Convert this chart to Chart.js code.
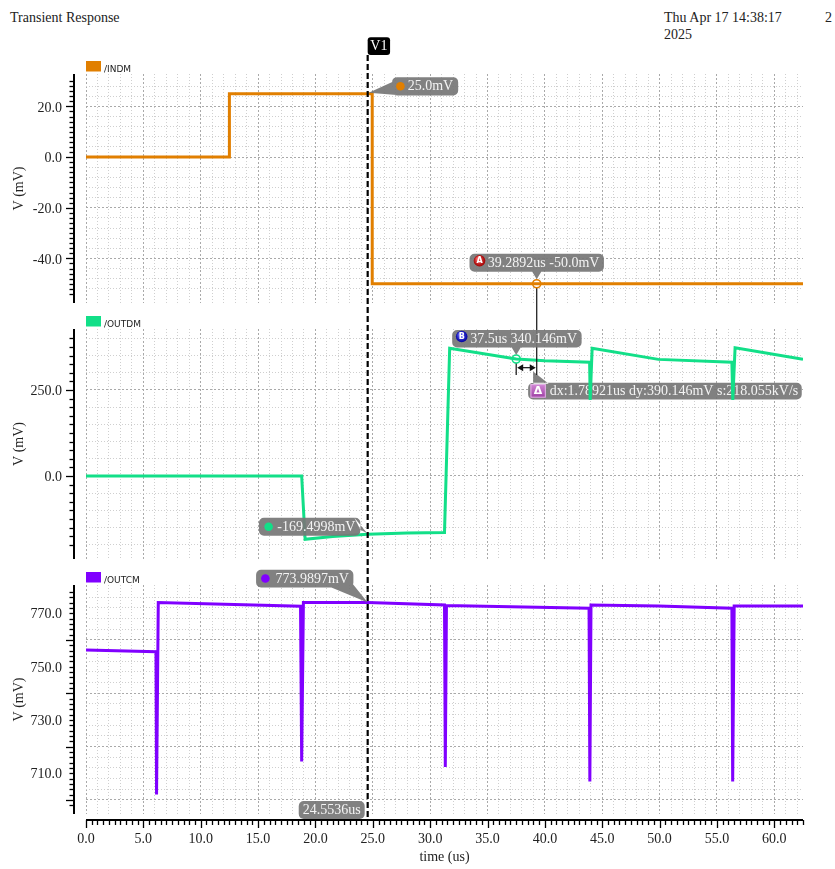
<!DOCTYPE html>
<html><head><meta charset="utf-8">
<script src="https://cdn.jsdelivr.net/npm/chart.js@4.4.1/dist/chart.umd.min.js"></script>
<style>
html,body{margin:0;padding:0;background:#fff;}
#wrap{position:relative;width:835px;height:869px;overflow:hidden;background:#fff;}
canvas{position:absolute;left:0;top:0;}
.hdr{position:absolute;font:14px 'Liberation Serif',serif;color:#222;white-space:nowrap;line-height:17px;}
</style></head><body>
<div id="wrap">
<div class="hdr" style="left:10px;top:9px">Transient Response</div>
<div class="hdr" style="left:664px;top:9px">Thu Apr 17 14:38:17<br>2025</div>
<div class="hdr" style="left:825px;top:9px">2</div>
<canvas id="c1" width="835" height="869"></canvas>
<canvas id="c2" width="835" height="869"></canvas>
<canvas id="c3" width="835" height="869"></canvas>
</div>
<script>
// ---------------- data (time in us, voltage in mV) ----------------
const timeINDM = [0, 12.5, 12.5, 24.95, 24.95, 62.5];
const valINDM  = [0, 0, 25, 25, -50, -50];

const timeOUTDM = [0, 18.8, 19.1, 21.5, 24.55, 28.0, 31.25, 31.7, 37.5, 40.0, 43.9, 43.95, 44.12, 49.9, 56.3, 56.38, 56.58, 62.5];
const valOUTDM  = [0, 0, -184, -176, -169.5, -166, -164, 371, 340.1, 335, 331, 221, 371, 339, 330.5, 221, 373, 339];

const timeOUTCM = [0, 6.1, 6.15, 6.3, 18.7, 18.8, 18.95, 24.55, 31.25, 31.32, 31.42, 43.85, 43.92, 44.02, 49.9, 56.3, 56.37, 56.5, 62.5];
const valOUTCM  = [756.2, 755.6, 702.0, 774.0, 772.6, 714.4, 774.0, 774.0, 773.1, 712.3, 772.9, 771.9, 706.9, 773.1, 772.7, 771.9, 706.9, 772.7, 772.7];

const xTickLabels     = [0, 5, 10, 15, 20, 25, 30, 35, 40, 45, 50, 55, 60];
const indmTickLabels  = [-40, -20, 0, 20];
const outdmTickLabels = [0, 250];
const outcmTickLabels = [710, 730, 750, 770];

const cursorTime = 24.5536;
const cursorINDM = 25.0;
const cursorOUTDM = -169.4998;
const cursorOUTCM = 773.9897;
const markerA = [39.2892, -50.0];
const markerB = [37.5, 340.146];
const deltaText = 'dx:1.78921us dy:390.146mV s:218.055kV/s';

// ---------------- helpers ----------------
const SERIF = "'Liberation Serif', 'Times New Roman', serif";
const C_OR = '#e17f00', C_GR = '#12df88', C_PU = '#8000ff';
function isMult(v, s) { const r = v / s; return Math.abs(r - Math.round(r)) < 1e-6; }

function rrPath(ctx, x, y, w, h, r) {
  ctx.moveTo(x + r, y);
  ctx.lineTo(x + w - r, y); ctx.arcTo(x + w, y, x + w, y + r, r);
  ctx.lineTo(x + w, y + h - r); ctx.arcTo(x + w, y + h, x + w - r, y + h, r);
  ctx.lineTo(x + r, y + h); ctx.arcTo(x, y + h, x, y + h - r, r);
  ctx.lineTo(x, y + r); ctx.arcTo(x, y, x + r, y, r);
  ctx.closePath();
}
function bubble(ctx, x, y, w, h, tail, fill) {
  ctx.save();
  ctx.fillStyle = fill || 'rgba(118,118,118,0.92)';
  ctx.beginPath();
  rrPath(ctx, x, y, w, h, 5);
  if (tail) {
    ctx.moveTo(tail[0][0], tail[0][1]);
    for (let i = 1; i < tail.length; i++) ctx.lineTo(tail[i][0], tail[i][1]);
    ctx.closePath();
  }
  ctx.fill('nonzero');
  ctx.restore();
}
function dot(ctx, x, y, r, color) {
  ctx.save(); ctx.fillStyle = color; ctx.beginPath(); ctx.arc(x, y, r, 0, Math.PI * 2); ctx.fill(); ctx.restore();
}
function sphere(ctx, x, y, r, c1, c2, letter) {
  ctx.save();
  const g = ctx.createRadialGradient(x - r * 0.35, y - r * 0.4, r * 0.1, x, y, r);
  g.addColorStop(0, c1); g.addColorStop(1, c2);
  ctx.fillStyle = g; ctx.beginPath(); ctx.arc(x, y, r, 0, Math.PI * 2); ctx.fill();
  ctx.fillStyle = '#fff'; ctx.font = "bold 8px 'DejaVu Sans', sans-serif";
  ctx.textAlign = 'center'; ctx.textBaseline = 'middle'; ctx.fillText(letter, x, y + 0.5);
  ctx.restore();
}
function txt(ctx, s, x, y, color, align) {
  ctx.save(); ctx.font = '14px ' + SERIF; ctx.fillStyle = color || '#f4f4f4';
  ctx.textAlign = align || 'left'; ctx.textBaseline = 'middle'; ctx.fillText(s, x, y); ctx.restore();
}
function tw(ctx, s) { ctx.save(); ctx.font = '14px ' + SERIF; const w = ctx.measureText(s).width; ctx.restore(); return w; }

// axis & legend drawing per panel
function panelPlugin(o) {
  return {
    id: 'panel' + o.name.replace('/', ''),
    afterDraw(chart) {
      const { ctx, chartArea: a, scales: { x, y } } = chart;
      ctx.save();
      // legend
      ctx.fillStyle = o.color;
      ctx.fillRect(a.left, a.top - 13, 15, 10.5);
      ctx.fillStyle = '#222';
      ctx.font = "9px 'DejaVu Sans', sans-serif";
      ctx.textBaseline = 'alphabetic';
      ctx.fillText(o.name, a.left + 18, a.top - 2.5);
      // y axis
      const ax = a.left - 12;
      ctx.strokeStyle = '#000';
      ctx.lineWidth = 2;
      ctx.beginPath(); ctx.moveTo(ax, a.top); ctx.lineTo(ax, a.bottom); ctx.stroke();
      ctx.lineWidth = 1.3;
      y.ticks.forEach(t => {
        if (!isMult(t.value, o.half)) return;
        const py = Math.round(y.getPixelForValue(t.value)) + 0.5;
        const len = isMult(t.value, o.major) ? 8 : 4.5;
        ctx.beginPath(); ctx.moveTo(ax - len, py); ctx.lineTo(ax, py); ctx.stroke();
      });
      if (o.showX) {
        const ay = a.bottom + 6;
        ctx.lineWidth = 2;
        ctx.beginPath(); ctx.moveTo(a.left, ay); ctx.lineTo(a.right, ay); ctx.stroke();
        ctx.lineWidth = 1.3;
        x.ticks.forEach(t => {
          if (!isMult(t.value, 0.5)) return;
          const px = Math.round(x.getPixelForValue(t.value)) + 0.5;
          const len = isMult(t.value, 5) ? 8 : 5;
          ctx.beginPath(); ctx.moveTo(px, ay); ctx.lineTo(px, ay + len); ctx.stroke();
        });
      }
      ctx.restore();
    }
  };
}

function gridColor(minor, major) {
  return c => {
    const t = c.tick; if (!t) return 'rgba(0,0,0,0)';
    if (isMult(t.value, major)) return '#a9a9a9';
    if (isMult(t.value, minor)) return '#cfcfcf';
    return 'rgba(0,0,0,0)';
  };
}
function gridWidth(minor) {
  return c => (c.tick && isMult(c.tick.value, minor)) ? 1 : 0;
}
function gridDash(minor, major) {
  return c => {
    const t = c.tick; if (!t) return [];
    if (isMult(t.value, major)) return [2, 2];
    return [1, 2];
  };
}

function makeChart(id, o) {
  const font = { family: SERIF, size: 14 };
  return new Chart(document.getElementById(id), {
    type: 'line',
    data: {
      datasets: [{
        label: o.name,
        data: o.t.map((t, i) => ({ x: t, y: o.v[i] })),
        borderColor: o.color, backgroundColor: o.color,
        borderWidth: 3, pointRadius: 0, tension: 0, fill: false,
        borderJoinStyle: 'miter'
      }]
    },
    options: {
      responsive: false, animation: false, devicePixelRatio: 1, events: [],
      layout: { padding: { top: o.padTop, bottom: o.padBottom, left: 0, right: 32 } },
      plugins: { legend: { display: false }, tooltip: { enabled: false } },
      scales: {
        x: {
          type: 'linear', min: 0, max: 62.5,
          afterFit: s => { s.height = o.xH; },
          ticks: {
            display: o.showX, stepSize: 0.5, autoSkip: false, maxRotation: 0, minRotation: 0,
            padding: 17, font: font, color: '#222',
            callback: v => xTickLabels.some(l => Math.abs(l - v) < 1e-6) ? Number(v).toFixed(1) : ''
          },
          grid: { drawTicks: false, color: gridColor(1, 5), lineWidth: gridWidth(1) },
          border: { display: false, dash: gridDash(1, 5) },
          title: { display: o.showX, text: 'time (us)', font: font, color: '#222', padding: { top: 0, bottom: 3 } }
        },
        y: {
          type: 'linear', min: o.min, max: o.max,
          afterFit: s => { s.width = 86; },
          ticks: {
            stepSize: o.half, autoSkip: false, padding: 24, font: font, color: '#222', labelOffset: 1.5,
            callback: v => o.labels.some(l => Math.abs(l - v) < 1e-6) ? Number(v).toFixed(1) : ''
          },
          grid: { drawTicks: false, color: gridColor(o.minor, o.major), lineWidth: gridWidth(o.minor) },
          border: { display: false, dash: gridDash(o.minor, o.major) },
          title: { display: true, text: 'V (mV)', font: font, color: '#222', padding: { top: 11, bottom: 0 } }
        }
      }
    },
    plugins: [panelPlugin(o)].concat(o.extra || [])
  });
}

// Delta readout box: drawn under the OUTDM trace
const deltaBox = {
  id: 'deltaBox',
  beforeDatasetsDraw(chart) {
    const ctx = chart.ctx;
    const ax = chart.scales.x.getPixelForValue(markerA[0]);
    const by = chart.scales.y.getPixelForValue(markerB[1]);
    const h = 16.8, w = 21.6 + tw(ctx, deltaText) + 3.5;
    const left = ax - 8.6, top = by + 23.7;
    bubble(ctx, left, top, w, h, [[ax - 3.6, by + 12.5], [ax - 3.6, top + 1], [ax + 12, top + 1]]);
    ctx.save();
    const g = ctx.createLinearGradient(0, top + 1, 0, top + 15);
    g.addColorStop(0, '#d58ad8'); g.addColorStop(1, '#9c3fa3');
    ctx.fillStyle = g; ctx.fillRect(left + 2.3, top + 1.4, 15.4, 13.6);
    ctx.strokeStyle = '#e6b7e8'; ctx.lineWidth = 1; ctx.strokeRect(left + 2.8, top + 1.9, 14.4, 12.6);
    ctx.fillStyle = '#fff'; ctx.font = "bold 11px 'DejaVu Sans', sans-serif";
    ctx.textAlign = 'center'; ctx.textBaseline = 'middle';
    ctx.fillText('\u0394', left + 10, top + 8.4);
    ctx.restore();
    txt(ctx, deltaText, left + 21.6, top + h / 2 + 0.5);
  }
};

const chTop = makeChart('c1', {
  name: '/INDM', color: C_OR, t: timeINDM, v: valINDM, labels: indmTickLabels,
  min: -57.6, max: 32.8, half: 2, minor: 4, major: 20, padTop: 74, padBottom: 566, xH: 0, showX: false
});
const chMid = makeChart('c2', {
  name: '/OUTDM', color: C_GR, t: timeOUTDM, v: valOUTDM, labels: outdmTickLabels,
  min: -241.3, max: 427.3, half: 25, minor: 50, major: 250, padTop: 329, padBottom: 310, xH: 0, showX: false,
  extra: [deltaBox]
});

const overlay = {
  id: 'overlay',
  afterDraw(chart) {
    const ctx = chart.ctx;
    const xs = v => chart.scales.x.getPixelForValue(v);
    const yTop = v => chTop.scales.y.getPixelForValue(v);
    const yMid = v => chMid.scales.y.getPixelForValue(v);
    const yBot = v => chart.scales.y.getPixelForValue(v);
    const cx = xs(cursorTime);

    // cursor line
    ctx.save();
    ctx.strokeStyle = '#000'; ctx.lineWidth = 2.2; ctx.setLineDash([6, 3]);
    ctx.beginPath(); ctx.moveTo(cx, 55); ctx.lineTo(cx, 820); ctx.stroke();
    ctx.restore();

    // V1 flag
    ctx.save(); ctx.fillStyle = '#000'; ctx.beginPath(); rrPath(ctx, cx, 37.3, 22.4, 17.7, 3); ctx.fill(); ctx.restore();
    txt(ctx, 'V1', cx + 11.2, 46.5, '#fff', 'center');

    // INDM cursor value
    {
      const px = cx, py = yTop(cursorINDM);
      const s = cursorINDM.toFixed(1) + 'mV';
      const left = px + 24.4, top = py - 16.6, h = 18.3, w = 15.6 + tw(ctx, s) + 5;
      bubble(ctx, left, top, w, h, [[px + 1, py - 1], [left + 4, top + 3], [left + 11, top + h]]);
      dot(ctx, left + 8.3, top + h / 2, 4.3, C_OR);
      txt(ctx, s, left + 15.6, top + h / 2 + 0.5);
    }
    // OUTDM cursor value
    {
      const px = cx, py = yMid(cursorOUTDM);
      const s = cursorOUTDM.toFixed(4) + 'mV';
      const h = 18, w = 18.3 + tw(ctx, s) + 5;
      const right = px - 7.3, left = right - w, top = py - 16.6;
      bubble(ctx, left, top, w, h, [[right - 6, top], [right, top + 12], [px - 0.5, py - 1]]);
      dot(ctx, left + 9.7, top + h / 2, 4.3, C_GR);
      txt(ctx, s, left + 18.3, top + h / 2 + 0.5);
    }
    // OUTCM cursor value
    {
      const px = cx, py = yBot(cursorOUTCM);
      const s = cursorOUTCM.toFixed(4) + 'mV';
      const h = 17.7, w = 19.3 + tw(ctx, s) + 4.5;
      const right = px - 14.3, left = right - w, bottom = py - 15.2, top = bottom - h;
      bubble(ctx, left, top, w, h, [[right - 22, bottom], [right - 1, bottom - 4], [px, py]]);
      dot(ctx, left + 9.3, top + h / 2, 4.3, C_PU);
      txt(ctx, s, left + 19.3, top + h / 2 + 0.5);
    }
    // time readout at bottom
    {
      const s = cursorTime.toFixed(4) + 'us';
      const w = tw(ctx, s) + 8, h = 18, right = cx - 3, top = 801;
      bubble(ctx, right - w, top, w, h, null);
      txt(ctx, s, right - w / 2, top + h / 2 + 0.5, '#f4f4f4', 'center');
    }

    // markers A and B
    const ax = xs(markerA[0]), ay = yTop(markerA[1]);
    const bx = xs(markerB[0]), by = yMid(markerB[1]);

    // delta construction lines
    ctx.save();
    ctx.strokeStyle = '#111'; ctx.lineWidth = 1.2;
    ctx.beginPath(); ctx.moveTo(ax, ay + 4); ctx.lineTo(ax, by + 16); ctx.stroke();
    ctx.beginPath(); ctx.moveTo(bx, by + 4); ctx.lineTo(bx, by + 16); ctx.stroke();
    const hy = by + 8.7;
    ctx.beginPath(); ctx.moveTo(bx + 4, hy); ctx.lineTo(ax - 4, hy); ctx.stroke();
    ctx.fillStyle = '#111';
    ctx.beginPath(); ctx.moveTo(bx + 1, hy); ctx.lineTo(bx + 7, hy - 3.5); ctx.lineTo(bx + 7, hy + 3.5); ctx.closePath(); ctx.fill();
    ctx.beginPath(); ctx.moveTo(ax - 1, hy); ctx.lineTo(ax - 7, hy - 3.5); ctx.lineTo(ax - 7, hy + 3.5); ctx.closePath(); ctx.fill();
    ctx.restore();

    ctx.save();
    ctx.lineWidth = 1.6;
    ctx.strokeStyle = C_OR; ctx.beginPath(); ctx.arc(ax, ay, 4, 0, Math.PI * 2); ctx.stroke();
    ctx.strokeStyle = C_GR; ctx.beginPath(); ctx.arc(bx, by, 4, 0, Math.PI * 2); ctx.stroke();
    ctx.restore();

    // A label
    {
      const s = markerA[0].toFixed(4) + 'us ' + markerA[1].toFixed(1) + 'mV';
      const h = 18, w = 18.3 + tw(ctx, s) + 4.5;
      const left = ax - w / 2, bottom = ay - 12, top = bottom - h;
      bubble(ctx, left, top, w, h, [[ax - 4.5, bottom], [ax + 4.5, bottom], [ax, ay - 4.5]]);
      sphere(ctx, left + 10, top + 7, 5.8, '#ff6a6a', '#a00000', 'A');
      txt(ctx, s, left + 18.3, top + h / 2 + 0.5);
    }
    // B label
    {
      const s = markerB[0] + 'us ' + markerB[1] + 'mV';
      const h = 17.5, w = 18 + tw(ctx, s) + 4.5;
      const left = bx + 0.7 - w / 2, bottom = by - 11.5, top = bottom - h;
      bubble(ctx, left, top, w, h, [[bx - 4.5, bottom], [bx + 4.5, bottom], [bx, by - 4]]);
      sphere(ctx, left + 9.5, top + 6.5, 5.8, '#6a6aff', '#0000a0', 'B');
      txt(ctx, s, left + 18, top + h / 2 + 0.5);
    }
  }
};

const chBot = makeChart('c3', {
  name: '/OUTCM', color: C_PU, t: timeOUTCM, v: valOUTCM, labels: outcmTickLabels,
  min: 694.7, max: 780.6, half: 2, minor: 4, major: 20, padTop: 585, padBottom: 0, xH: 55, showX: true,
  extra: [overlay]
});
</script>
</body></html>
